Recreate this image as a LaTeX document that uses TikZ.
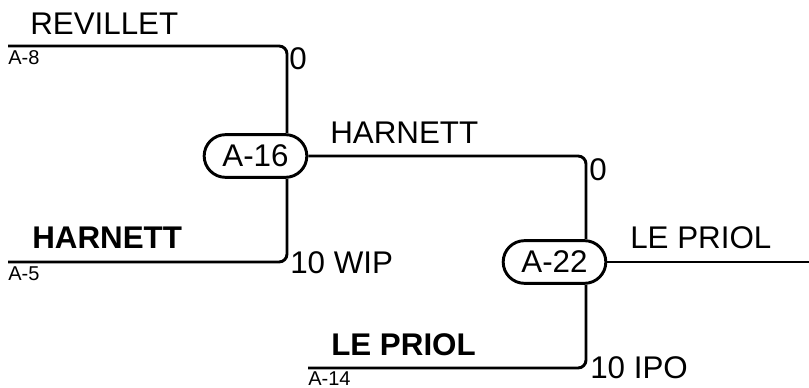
\documentclass[tikz,border=0pt]{standalone}
\usepackage{fontspec}
\setmainfont{Liberation Sans}
\usetikzlibrary{shapes.misc}
\tikzset{
  bline/.style={line width=2.2pt,rounded corners=6pt},
  matchbox/.style={rounded rectangle,draw,line width=2.2pt,minimum width=77pt,minimum height=32pt,inner sep=0pt,font=\fontsize{23.5}{28}\selectfont},
  bigtxt/.style={anchor=base west,inner sep=0pt,font=\fontsize{23.5}{28}\selectfont},
  smalltxt/.style={anchor=base west,inner sep=0pt,font=\fontsize{15}{18}\selectfont},
}

\begin{document}
\begin{tikzpicture}[x=0.75pt,y=-0.75pt]
\path[use as bounding box] (0,0) rectangle (809,388);
\node[matchbox] (m16) at (255.5,156) {A-16};
\node[matchbox] (m22) at (554.5,262) {A-22};
\coordinate (col1) at (287,0);
\coordinate (col2) at (586,0);
\coordinate (p8) at (8,46);
\coordinate (p5) at (8,262);
\coordinate (p14) at (308,368);
\coordinate (win) at (809,262);
\draw[bline] (p8) -| (m16.north -| col1);
\draw[bline] (p5) -| (m16.south -| col1);
\draw[bline] (m16.east) -| (m22.north -| col2);
\draw[bline] (p14) -| (m22.south -| col2);
\draw[bline] (m22.east) -- (win);
\node[bigtxt] (nRev) at (30,35) {REVILLET};
\node[smalltxt] (sA8) at (8,65) {A-8};
\node[bigtxt] (sc8) at (289,70) {0};
\node[bigtxt,font=\fontsize{23.5}{28}\selectfont\bfseries] (nHar) at (32,248) {HARNETT};
\node[smalltxt] (sA5) at (8,280) {A-5};
\node[bigtxt] (sc5) at (290,273) {10 WIP};
\node[bigtxt] (nHar2) at (330,144) {HARNETT};
\node[bigtxt] (sc16) at (589,181) {0};
\node[bigtxt,font=\fontsize{23.5}{28}\selectfont\bfseries] (nLeP) at (331,355) {LE PRIOL};
\node[smalltxt] (sA14) at (308,385) {A-14};
\node[bigtxt] (sc14) at (590,378) {10 IPO};
\node[bigtxt] (nLeP2) at (630,248) {LE PRIOL};
\end{tikzpicture}
\end{document}
